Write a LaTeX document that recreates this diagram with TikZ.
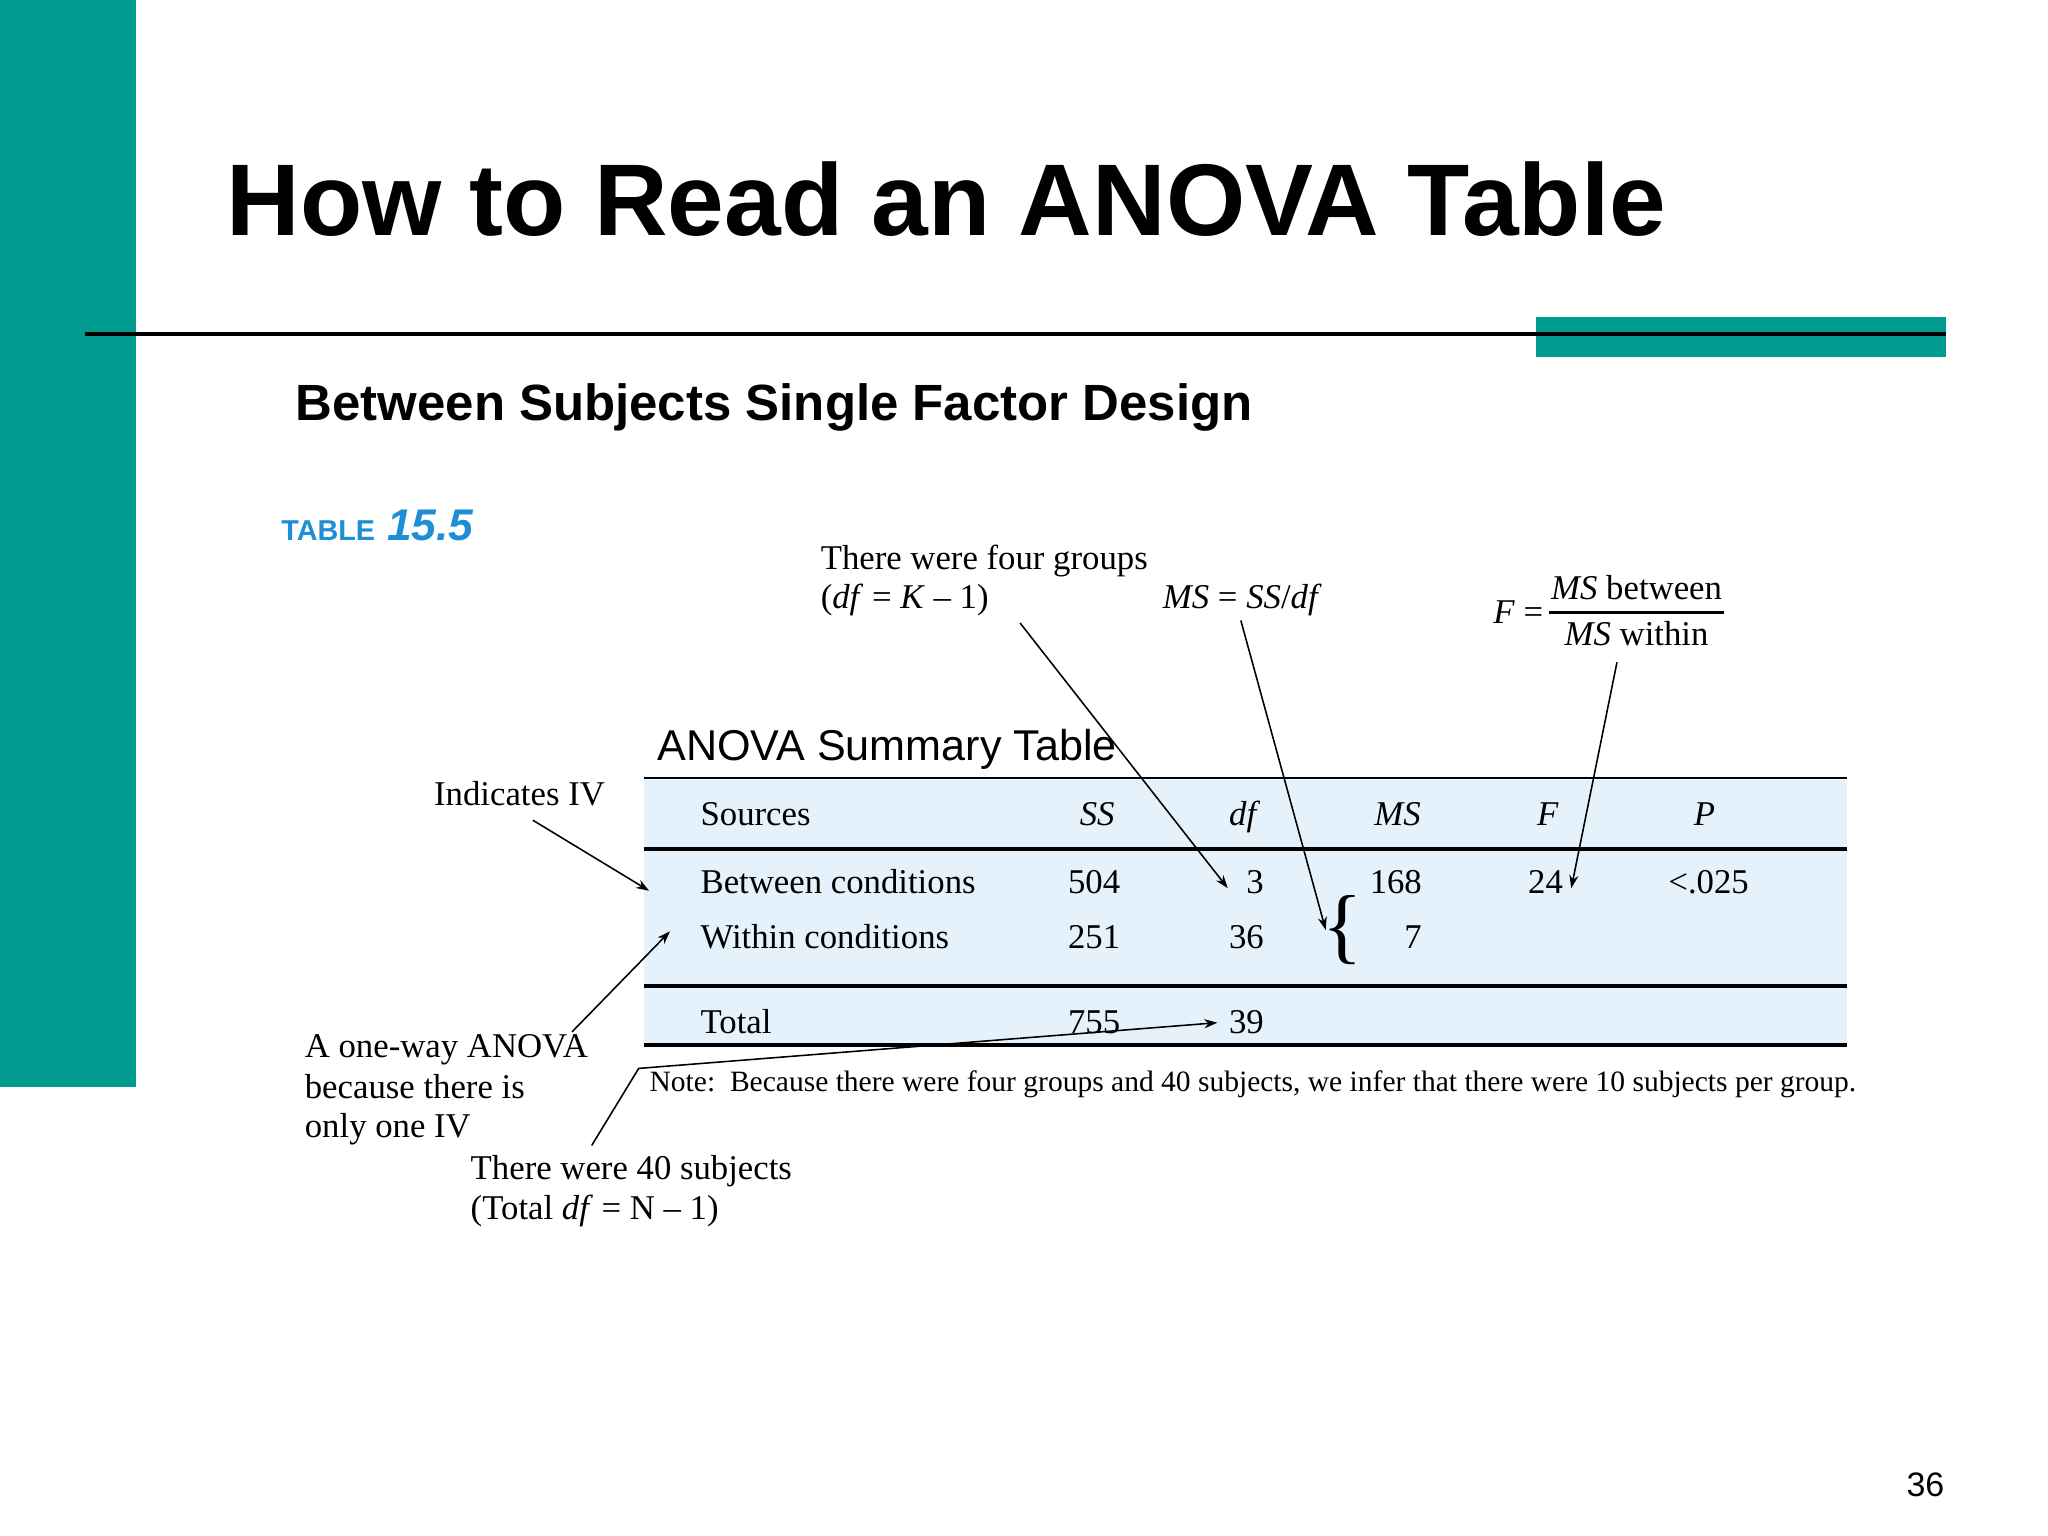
\documentclass[tikz,border=0pt]{standalone}
\usepackage{fontspec}
\setmainfont{Liberation Serif}
\newfontfamily\arial{Liberation Sans}
\usetikzlibrary{arrows.meta}
\definecolor{teal1}{HTML}{009B8F}
\definecolor{tblue}{HTML}{E6F2FB}
\definecolor{tabblue}{HTML}{1E8FD5}
\tikzset{
  txt/.style={anchor=base west,inner sep=0pt,font=\fontsize{13.3}{15}\selectfont},
  ann/.style={-{Stealth[length=5pt,width=3.5pt]},line width=0.6pt},
}
\begin{document}
\begin{tikzpicture}[x=0.5pt,y=-0.5pt]
\useasboundingbox (0,0) rectangle (1568,1176);
\fill[white] (0,0) rectangle (1568,1176);
\fill[teal1] (0,0) rectangle (104,832);
\node[anchor=base west,inner sep=0pt,font=\arial\bfseries\fontsize{39}{45}\selectfont] (title) at (173,180) {How to Read an ANOVA Table};
\draw[line width=1.5pt] (65,256) -- (1490,256);
\fill[teal1] (1176,243) rectangle (1490,273);
\draw[line width=1.5pt] (1176,256) -- (1490,256);
\node[anchor=base west,inner sep=0pt,font=\arial\bfseries\fontsize{19.5}{22}\selectfont] (sub) at (226,322) {Between Subjects Single Factor Design};
\node[anchor=base west,inner sep=0pt,text=tabblue,font=\arial\bfseries\fontsize{11}{12}\selectfont] (tab) at (215,414) {TABLE};
\node[anchor=base west,inner sep=0pt,text=tabblue,font=\arial\bfseries\itshape\fontsize{17}{18}\selectfont] (tabn) at (296,414) {15.5};
% table
\fill[tblue] (493,597) rectangle (1414,800);
\draw[line width=0.8pt] (493,596) -- (1414,596);
\draw[line width=1.3pt] (493,650) -- (1414,650);
\draw[line width=1.3pt] (493,755) -- (1414,755);
\draw[line width=1.3pt] (493,800) -- (1414,800);
\node[anchor=base west,inner sep=0pt,font=\arial\fontsize{16.5}{18}\selectfont] (ast) at (503,582) {ANOVA Summary Table};
\node[txt] (hs) at (536,632) {Sources};
\node[txt,anchor=base] (hss) at (840,632) {\textit{SS}};
\node[txt,anchor=base] (hdf) at (953,632) {\textit{df}};
\node[txt,anchor=base] (hms) at (1070,632) {\textit{MS}};
\node[txt,anchor=base] (hf) at (1185,632) {\textit{F}};
\node[txt,anchor=base] (hp) at (1305,632) {\textit{P}};
\node[txt] (r1) at (536,684) {Between conditions};
\node[txt,anchor=base east] (r1ss) at (858,684) {504};
\node[txt,anchor=base east] (r1df) at (968,684) {3};
\node[txt,anchor=base east] (r1ms) at (1089,684) {168};
\node[txt,anchor=base east] (r1f) at (1197,684) {24};
\node[txt] (r1p) at (1277,684) {<.025};
\node[txt] (r2) at (536,726) {Within conditions};
\node[txt,anchor=base east] (r2ss) at (858,726) {251};
\node[txt,anchor=base east] (r2df) at (968,726) {36};
\node[txt,anchor=base east] (r2ms) at (1089,726) {7};
\node[txt] (r3) at (536,791) {Total};
\node[txt,anchor=base east] (r3ss) at (858,791) {755};
\node[txt,anchor=base east] (r3df) at (968,791) {39};
\node[inner sep=0pt,font=\fontsize{32}{32}\selectfont] (brace) at (1028,712) {\{};
\node[txt,font=\fontsize{11.3}{13}\selectfont] (note) at (497,836) {Note:\ \ Because there were four groups and 40 subjects, we infer that there were 10 subjects per group.};
% annotations
\node[txt] (a1) at (628,436) {There were four groups};
\node[txt] (a1b) at (628,466) {(\textit{df} = \textit{K} – 1)};
\node[txt] (a2) at (890,466) {\textit{MS} = \textit{SS}/\textit{df}};
\node[txt] (a3) at (1143,477) {\textit{F} =};
\node[txt,anchor=base] (a3n) at (1253,459) {\textit{MS} between};
\node[txt,anchor=base] (a3d) at (1253,494) {\textit{MS} within};
\draw[line width=1pt] (1186,469) -- (1320,469);
\node[txt] (a4) at (332,617) {Indicates IV};
\node[txt] (a5) at (233,810) {A one-way ANOVA};
\node[txt] (a5b) at (233,841) {because there is};
\node[txt] (a5c) at (233,871) {only one IV};
\node[txt] (a6) at (360,903) {There were 40 subjects};
\node[txt] (a6b) at (360,934) {(Total \textit{df} = N – 1)};
\coordinate (c1) at (781,477);
\coordinate (t1) at (940,680);
\coordinate (c2) at (950,475);
\coordinate (t2) at (1015,712);
\coordinate (c3) at (1238,507);
\coordinate (t3) at (1203,680);
\coordinate (c4) at (408,628);
\coordinate (t4) at (497,682);
\coordinate (c5) at (438,790);
\coordinate (t5) at (513,713);
\coordinate (c6) at (453,877);
\coordinate (k6) at (489,818);
\coordinate (t6) at (932,783);
\draw[ann] (c1) -- (t1);
\draw[ann] (c2) -- (t2);
\draw[ann] (c3) -- (t3);
\draw[ann] (c4) -- (t4);
\draw[ann] (c5) -- (t5);
\draw[ann] (c6) -- (k6) -- (t6);
\node[anchor=base east,inner sep=0pt,font=\arial\fontsize{13}{15}\selectfont] (pg) at (1489,1146) {36};
\end{tikzpicture}
\end{document}
